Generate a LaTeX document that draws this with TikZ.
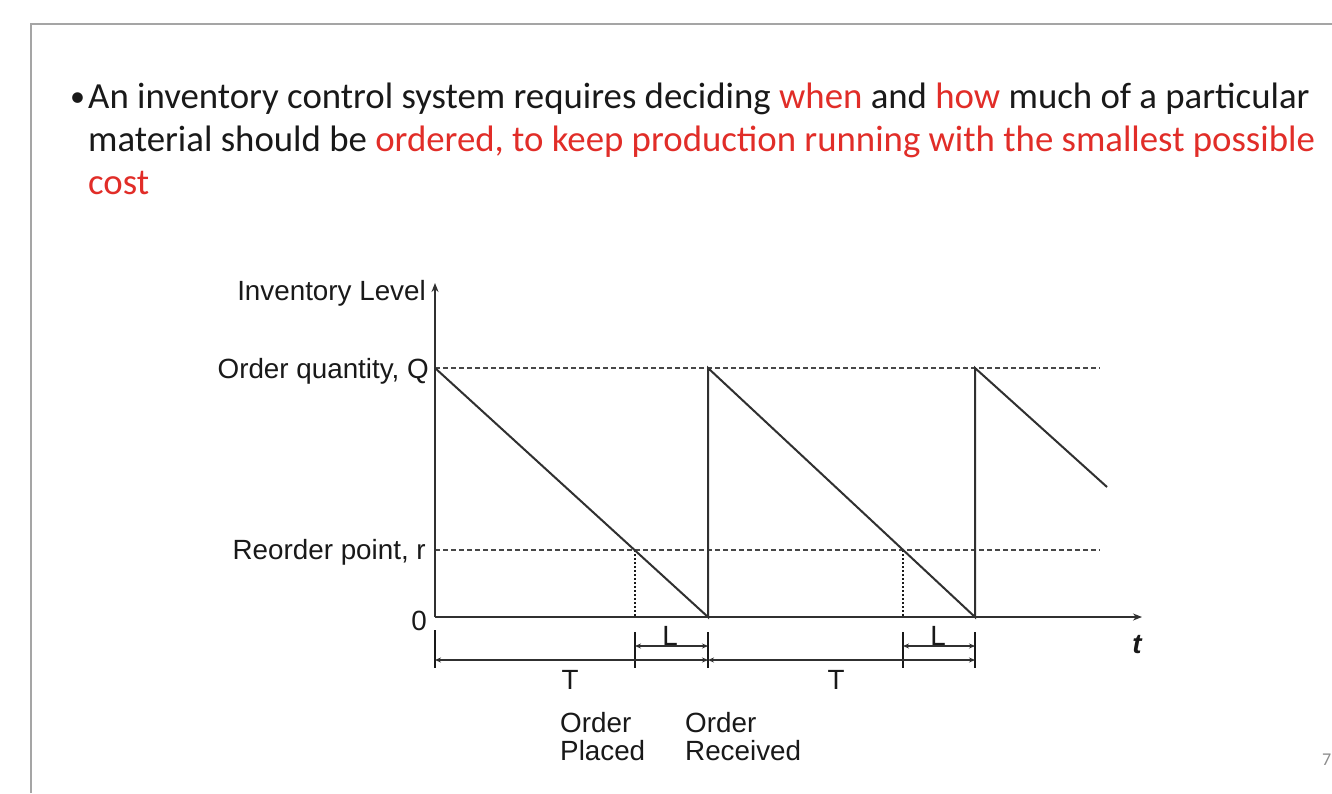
\documentclass[tikz,border=0pt]{standalone}
\usepackage{fontspec}
\setmainfont{Carlito}
\newfontfamily\arialf{Liberation Sans}
\usetikzlibrary{arrows.meta}
\definecolor{hl}{RGB}{225,45,40}
\definecolor{txt}{RGB}{25,25,25}
\definecolor{framec}{RGB}{165,165,165}
\begin{document}
\begin{tikzpicture}[x=1pt,y=-1pt,
  body/.style={anchor=base west,inner sep=0pt,font=\fontsize{36.8}{43}\selectfont,text=txt},
  lab/.style={inner sep=0pt,font=\arialf\fontsize{27.8}{28}\selectfont,text=txt},
  axisline/.style={line width=2.8pt,draw=txt!90,-{Stealth[length=9pt,width=7pt]}},
  saw/.style={line width=2pt,draw=txt!90},
  guide/.style={line width=1.8pt,draw=txt!80,dash pattern=on 5pt off 3pt},
  drop/.style={line width=1.8pt,draw=txt,dash pattern=on 2pt off 2pt},
  tickline/.style={line width=1.8pt,draw=txt},
  dimline/.style={line width=1.6pt,draw=txt!90,{Stealth[length=6pt,width=5pt]}-{Stealth[length=6pt,width=5pt]}},
]
\fill[white] (0,0) rectangle (1332,793);
\useasboundingbox (0,0) rectangle (1332,793);
% slide frame
\coordinate (fA) at (31,793); \coordinate (fB) at (31,24); \coordinate (fC) at (1332,24);
\draw[draw=framec,line width=2pt] (fA) -- (fB) -- (fC);
% text
\node[body,font=\fontsize{30}{36}\selectfont] (bul) at (70,106) {•};
\node[body] (l1) at (88,108) {An inventory control system requires deciding \textcolor{hl}{when} and \textcolor{hl}{how} much of a particular};
\node[body] (l2) at (88,151) {material should be \textcolor{hl}{ordered, to keep production running with the smallest possible}};
\node[body] (l3) at (88,194) {\textcolor{hl}{cost}};
% key points
\coordinate (O) at (435,617);
\coordinate (yTop) at (435,283);
\coordinate (xEnd) at (1142,617);
\coordinate (Q0) at (435,368);
\coordinate (D1) at (708,617);
\coordinate (Q1) at (708,368);
\coordinate (D2) at (975,617);
\coordinate (Q2) at (975,368);
\coordinate (E) at (1107,487);
\coordinate (Qend) at (1100,368);
\coordinate (r0) at (435,550);
\coordinate (rend) at (1100,550);
\coordinate (P1) at (635,550);
\coordinate (P1b) at (635,617);
\coordinate (P2) at (903,550);
\coordinate (P2b) at (903,617);
% guides
\draw[guide] (Q0) -- (Qend);
\draw[guide] (r0) -- (rend);
\draw[drop] (P1) -- (P1b);
\draw[drop] (P2) -- (P2b);
% sawtooth
\draw[saw] (Q0) -- (D1) -- (Q1) -- (D2) -- (Q2) -- (E);
% axes
\draw[axisline] (O) -- (yTop);
\draw[axisline] (O) -- (xEnd);
% ticks
\coordinate (k0a) at (435,630); \coordinate (k0b) at (435,668);
\coordinate (k1a) at (635,632); \coordinate (k1b) at (635,668);
\coordinate (k2a) at (708,632); \coordinate (k2b) at (708,668);
\coordinate (k3a) at (903,632); \coordinate (k3b) at (903,668);
\coordinate (k4a) at (975,632); \coordinate (k4b) at (975,668);
\draw[tickline] (k0a) -- (k0b);
\draw[tickline] (k1a) -- (k1b);
\draw[tickline] (k2a) -- (k2b);
\draw[tickline] (k3a) -- (k3b);
\draw[tickline] (k4a) -- (k4b);
% dimension lines
\coordinate (T1a) at (435,660); \coordinate (T1b) at (708,660);
\coordinate (T2a) at (708,660); \coordinate (T2b) at (975,660);
\coordinate (L1a) at (635,646); \coordinate (L1b) at (708,646);
\coordinate (L2a) at (903,646); \coordinate (L2b) at (975,646);
\draw[dimline] (T1a) -- (T1b);
\draw[dimline] (T2a) -- (T2b);
\draw[dimline] (L1a) -- (L1b);
\draw[dimline] (L2a) -- (L2b);
% labels
\node[lab,anchor=base east] (ylab) at (426,300) {Inventory Level};
\node[lab,anchor=base east] (qlab) at (429,378) {Order quantity, Q};
\node[lab,anchor=base east] (rlab) at (426,559) {Reorder point, r};
\node[lab,anchor=base east] (zlab) at (427,630) {0};
\node[lab] (tlab) at (1137,645) {\bfseries\itshape t};
\node[lab] (T1) at (570,680) {T};
\node[lab] (T2) at (836,680) {T};
\node[lab] (L1) at (670,636) {L};
\node[lab] (L2) at (938,636) {L};
\node[lab,anchor=base west,align=left] (op) at (560,760) {Order\\Placed};
\node[lab,anchor=base west,align=left] (or) at (685,760) {Order\\Received};
\node[anchor=base west,inner sep=0pt,text=black!45,font=\fontsize{18}{20}\selectfont] (pg) at (1322,765) {7};
\end{tikzpicture}
\end{document}
